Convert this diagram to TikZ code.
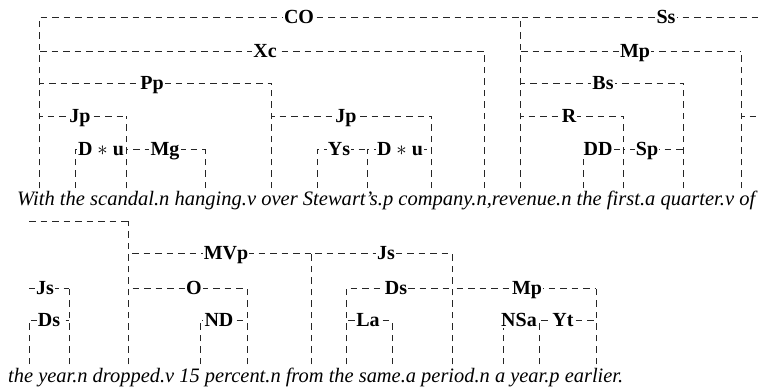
\documentclass[tikz,border=0pt]{standalone}
\usepackage{graphicx}
\usepackage{fontspec}
\setmainfont{Liberation Serif}
\newsavebox\rowA
\newsavebox\rowB
\begin{document}
\sbox\rowA{\fontsize{20.5}{22}\selectfont\itshape With the scandal.n hanging.v over Stewart's.p company.n,revenue.n the first.a quarter.v of}%
\sbox\rowB{\fontsize{20.5}{22}\selectfont\itshape the year.n dropped.v 15 percent.n from the same.a period.n a year.p earlier.}%
\begin{tikzpicture}[x=1pt,y=-1pt,
  link/.style={draw=black!85, line width=1pt, dash pattern=on 6.5pt off 5pt},
  lab/.style={fill=white, inner sep=1.2pt, anchor=base, font=\fontsize{20}{22}\selectfont\bfseries},
  ]
\useasboundingbox (0,0) rectangle (760,388);
\fill[white] (0,0) rectangle (760,388);
% levels
\coordinate (La) at (0,17);  \coordinate (Lb) at (0,51);
\coordinate (Lc) at (0,83);  \coordinate (Ld) at (0,116);
\coordinate (Le) at (0,149); \coordinate (Lf) at (0,221);
\coordinate (Lg) at (0,253); \coordinate (Lh) at (0,288);
\coordinate (Li) at (0,320);
% words, row one
\coordinate (with) at (39,188);   \coordinate (theA) at (75,188);
\coordinate (scandal) at (126,188); \coordinate (hanging) at (205,188);
\coordinate (over) at (271,188);  \coordinate (stewart) at (317,188);
\coordinate (poss) at (367,188);  \coordinate (company) at (431,188);
\coordinate (comma) at (484,188); \coordinate (revenue) at (520,188);
\coordinate (theB) at (583,188);  \coordinate (first) at (623,188);
\coordinate (quarter) at (683,188); \coordinate (of) at (741,188);
% words, row two
\coordinate (theC) at (29,364);   \coordinate (year) at (69,364);
\coordinate (dropped) at (128,364); \coordinate (fifteen) at (200,364);
\coordinate (percent) at (247,364); \coordinate (from) at (311,364);
\coordinate (theD) at (346,364);  \coordinate (same) at (392,364);
\coordinate (period) at (452,364); \coordinate (a) at (503,364);
\coordinate (yearp) at (539,364); \coordinate (earlier) at (596,364);
% free ends of wrapped links
\coordinate (SsEnd) at (760,17);  \coordinate (JsEnd) at (760,116);
\coordinate (SsStart) at (29,221); \coordinate (JsStart) at (29,288);
% text
\node[anchor=base west, inner sep=0] (rowone) at (17,205) {\resizebox{738pt}{\height}{\usebox\rowA}};
\node[anchor=base west, inner sep=0] (rowtwo) at (8,382) {\resizebox{615pt}{\height}{\usebox\rowB}};
% link macro: from, to, level, label, label x, name
\newcommand\lnk[6]{%
  \draw[link] (#1) -- (#1 |- #3) -- (#2 |- #3);
  \draw[link] (#2) -- (#2 |- #3);
  \path (#5,0) coordinate (tmp#6);
  \node[lab] (#6) at ([yshift=-6.8pt]tmp#6 |- #3) {#4};
}
% row one
\lnk{with}{revenue}{La}{CO}{299}{CO}
\lnk{with}{comma}{Lb}{Xc}{265}{Xc}
\lnk{with}{over}{Lc}{Pp}{152}{Pp}
\lnk{with}{scandal}{Ld}{Jp}{80}{JpA}
\lnk{theA}{scandal}{Le}{D $\ast$ u}{101}{DuA}
\lnk{scandal}{hanging}{Le}{Mg}{165}{Mg}
\lnk{over}{company}{Ld}{Jp}{346}{JpB}
\lnk{stewart}{poss}{Le}{Ys}{339}{Ys}
\lnk{poss}{company}{Le}{D $\ast$ u}{400}{DuB}
\draw[link] (revenue) -- (revenue |- La) -- (SsEnd);
\node[lab] (Ss) at ([yshift=-6.8pt]666,17) {Ss};
\lnk{revenue}{of}{Lb}{Mp}{635}{MpA}
\lnk{revenue}{quarter}{Lc}{Bs}{603}{Bs}
\lnk{revenue}{first}{Ld}{R}{569}{R}
\lnk{theB}{first}{Le}{DD}{598}{DD}
\lnk{first}{quarter}{Le}{Sp}{647}{Sp}
\draw[link] (of) -- (of |- Ld) -- (JsEnd);
% row two
\draw[link] (SsStart) -- (dropped |- Lf);
\draw[link] (dropped) -- (dropped |- Lf);
\draw[link] (JsStart) -- (year |- Lh);
\draw[link] (year) -- (year |- Lh);
\node[lab] (JsA) at ([yshift=-6.8pt]45,288) {Js};
\lnk{theC}{year}{Li}{Ds}{49}{DsA}
\lnk{dropped}{from}{Lg}{MVp}{226}{MVp}
\lnk{from}{period}{Lg}{Js}{386}{JsB}
\lnk{dropped}{percent}{Lh}{O}{194}{O}
\lnk{fifteen}{percent}{Li}{ND}{219}{ND}
\lnk{theD}{period}{Lh}{Ds}{396}{DsB}
\lnk{theD}{same}{Li}{La}{368}{La}
\lnk{period}{earlier}{Lh}{Mp}{527}{MpB}
\lnk{a}{yearp}{Li}{NSa}{519}{NSa}
\lnk{yearp}{earlier}{Li}{Yt}{563}{Yt}
\end{tikzpicture}
\end{document}
